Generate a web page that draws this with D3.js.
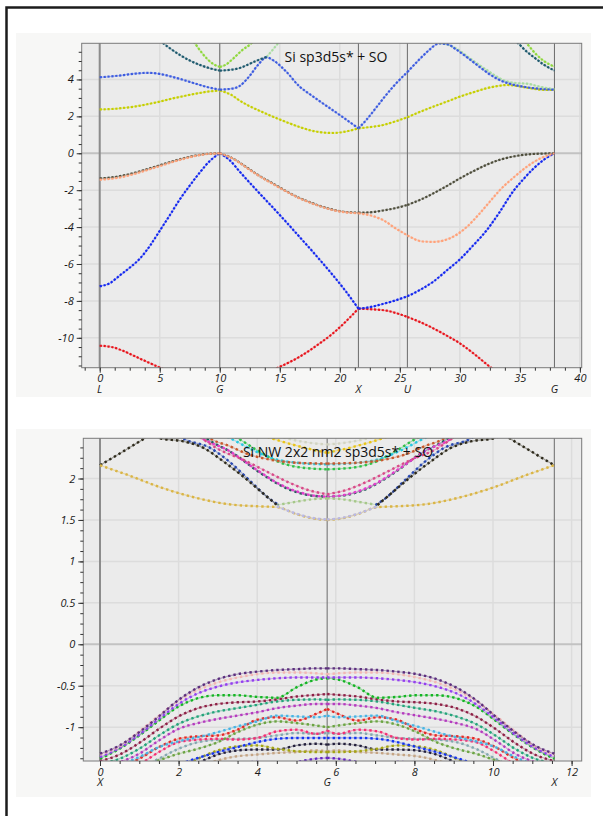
<!DOCTYPE html>
<html>
<head>
<meta charset="utf-8">
<script src="https://cdn.jsdelivr.net/npm/d3@7"></script>
<style>
  body { margin: 0; background: #fff; }
  text { font-family: "Open Sans", "Noto Sans", sans-serif; }
</style>
</head>
<body>
<svg id="chart" width="603" height="816"></svg>
<script>
// ---------- bulk Si, path L-G-X-U,K-G ----------
const bulkSym = [0, 10, 21.55, 25.63, 37.88]
const bulkSymLabels = ['L', 'G', 'X', 'U', 'G']

const bulkRed = [[0,-10.43],[1,-10.5],[2,-10.72],[3,-11.02],[4,-11.32],[4.86,-11.57],[6,-11.9],[7,-12.15],[8.5,-12.35],[10,-12.42],
  [11.5,-12.3],[13,-12.05],[14,-11.85],[15,-11.57],[16.67,-11.02],[18.33,-10.3],[19.5,-9.72],[20.5,-9.12],[21.55,-8.42],
  [22.5,-8.45],[23.9,-8.53],[24.8,-8.68],[25.63,-8.87],[26.7,-9.15],[27.8,-9.49],[28.9,-9.88],[30,-10.3],[31.2,-10.88],[32.5,-11.57],[33.5,-12.05],[34.5,-12.5]]
const bulkBlueLow = [[0,-7.2],[0.8,-7.06],[1.67,-6.62],[2.5,-6.2],[3.33,-5.72],[4.2,-5.0],[5,-4.2],[5.8,-3.4],[6.67,-2.5],[7.5,-1.75],[8.33,-1.05],[9.2,-0.4],[10,0],
  [10.8,-0.36],[11.67,-1.0],[12.5,-1.6],[13.5,-2.3],[14.44,-2.95],[15.5,-3.7],[16.67,-4.55],[17.5,-5.15],[18.33,-5.77],[19.44,-6.62],[20.5,-7.48],[21.55,-8.42],
  [22.5,-8.34],[23.5,-8.18],[24.5,-8.0],[25.63,-7.75],[26.7,-7.4],[27.8,-6.95],[29,-6.3],[30,-5.75],[31.1,-5.0],[32.2,-4.2],[33.3,-3.2],[34.4,-2.1],[35.3,-1.4],[36.1,-0.85],[37,-0.35],[37.88,0]]
const bulkOlive = [[0,-1.36],[1,-1.31],[2,-1.2],[3,-1.04],[4,-0.85],[5,-0.65],[6,-0.45],[7,-0.27],[8,-0.12],[9,-0.03],[10,0],
  [11,-0.25],[11.67,-0.51],[12.5,-0.88],[13.5,-1.3],[14.44,-1.64],[15.5,-2.04],[16.67,-2.43],[17.5,-2.65],[18.33,-2.85],[19.44,-3.06],[20.5,-3.18],[21.55,-3.22],
  [22.5,-3.2],[23.6,-3.1],[24.6,-2.98],[25.63,-2.8],[26.7,-2.52],[27.8,-2.17],[28.9,-1.78],[30,-1.36],[31.1,-0.98],[32.2,-0.63],[33.3,-0.36],[34.4,-0.18],[35.5,-0.07],[36.7,-0.02],[37.88,0]]
const bulkSalmon = [[0,-1.43],[1,-1.38],[2,-1.27],[3,-1.1],[4,-0.9],[5,-0.7],[6,-0.49],[7,-0.3],[8,-0.14],[9,-0.04],[10,0],
  [11,-0.26],[11.67,-0.53],[12.5,-0.9],[13.5,-1.32],[14.44,-1.67],[15.5,-2.06],[16.67,-2.45],[17.5,-2.67],[18.33,-2.87],[19.44,-3.08],[20.5,-3.2],[21.55,-3.25],
  [22.5,-3.36],[23.6,-3.62],[24.6,-4.05],[25.63,-4.45],[26.9,-4.78],[27.8,-4.8],[29.2,-4.6],[30.6,-3.98],[31.6,-3.3],[32.5,-2.62],[33.3,-2.02],[34.5,-1.3],[35.6,-0.72],[36.8,-0.25],[37.88,0]]
const bulkYellow = [[0,2.38],[1,2.4],[2,2.46],[3,2.54],[4,2.66],[5,2.8],[6,2.96],[7,3.1],[8,3.23],[9,3.34],[10,3.4],
  [11,3.15],[11.67,2.85],[12.5,2.55],[13.5,2.25],[14.44,1.98],[15.5,1.7],[16.67,1.42],[17.5,1.25],[18.33,1.15],[19.44,1.1],[20.5,1.18],[21.55,1.35],
  [22.5,1.42],[23.6,1.53],[24.6,1.72],[25.63,1.95],[26.7,2.25],[27.8,2.53],[29,2.82],[30,3.07],[31.1,3.3],[32.2,3.52],[33.1,3.64],[33.9,3.7],[35,3.62],[36.1,3.5],[37,3.44],[37.88,3.43]]
const bulkRoyal = [[0,4.12],[1,4.17],[2,4.24],[3,4.32],[4,4.36],[5,4.3],[6,4.15],[7,3.97],[8,3.77],[9,3.58],[10,3.45],
  [11,3.5],[11.67,3.65],[12.5,4.2],[13.2,4.8],[13.9,5.2],[14.5,5.02],[15.5,4.45],[16.67,3.6],[17.5,3.2],[18.33,2.82],[19.2,2.43],[20,2.07],[20.8,1.7],[21.55,1.35],
  [22.2,1.8],[23,2.45],[23.6,2.95],[24.5,3.65],[25.63,4.4],[26.5,5.0],[27.2,5.45],[28.3,5.95],[29,5.9],[29.7,5.62],[30.7,5.15],[31.7,4.65],[32.5,4.27],[33.3,3.97],[34.2,3.76],[35,3.64],[36.1,3.53],[37,3.47],[37.88,3.45]]
const bulkTealLeft = [[5,6.12],[5.3,5.96],[6,5.62],[6.67,5.33],[7.5,5.03],[8.33,4.79],[9.2,4.6],[10,4.48],[10.8,4.52],[11.67,4.62],[12.5,4.85],[13.3,5.08],[13.9,5.22]]
const bulkTealRight = [[34.5,6.15],[34.86,5.96],[35.5,5.55],[36.1,5.24],[37,4.8],[37.88,4.48]]
const bulkPaleLeft = [[13.9,5.22],[14.4,5.6],[14.9,6.0],[15.4,6.4]]
const bulkPaleRight = [[28.3,5.97],[29,5.88],[29.7,5.68],[30.6,5.26],[31.4,4.88],[32.2,4.53],[33,4.18],[33.9,3.9],[34.8,3.8],[35.6,3.77],[36.7,3.6],[37.88,3.47]]
const bulkGreenLeft = [[7.6,6.2],[7.92,5.96],[8.5,5.45],[9,5.08],[9.5,4.82],[10,4.68],[10.5,4.8],[11.1,5.12],[11.8,5.55],[12.64,5.96],[13,6.2]]
const bulkGreenRight = [[35.2,6.2],[35.56,5.96],[36.3,5.4],[37,5.0],[37.88,4.69]]

// ---------- Si nanowire, path X-G-X (values given X -> G, mirrored about G) ----------
const nwG = 5.78
const nwSym = [0, 5.78, 11.56]
const nwSymLabels = ['X', 'G', 'X']
const nwK = [0, 0.5, 1, 1.5, 2, 2.5, 3, 3.5, 4, 4.5, 5, 5.5, 5.78]

const vDarkPurple = [-1.32,-1.22,-1.06,-0.87,-0.67,-0.52,-0.42,-0.36,-0.33,-0.31,-0.30,-0.29,-0.29]
const vPalePink   = [-1.33,-1.23,-1.05,-0.86,-0.68,-0.55,-0.46,-0.40,-0.36,-0.34,-0.34,-0.35,-0.36]
const vViolet     = [-1.36,-1.25,-1.09,-0.90,-0.72,-0.59,-0.51,-0.46,-0.43,-0.41,-0.40,-0.40,-0.40]
const vGreen      = [-1.38,-1.26,-1.10,-0.92,-0.75,-0.65,-0.615,-0.615,-0.635,-0.645,-0.52,-0.425,-0.41]
const vMaroon     = [-1.41,-1.33,-1.19,-1.02,-0.87,-0.77,-0.72,-0.70,-0.69,-0.665,-0.63,-0.61,-0.60]
const vTeal       = [-1.44,-1.38,-1.26,-1.10,-0.96,-0.87,-0.81,-0.77,-0.73,-0.69,-0.67,-0.665,-0.67]
const vMagenta    = [-1.47,-1.42,-1.32,-1.16,-1.02,-0.95,-0.90,-0.86,-0.82,-0.77,-0.74,-0.72,-0.72]
const vSky        = [-1.50,-1.45,-1.36,-1.24,-1.17,-1.12,-1.06,-0.99,-0.93,-0.86,-0.87,-0.88,-0.86]
const vRed        = [-1.55,-1.48,-1.38,-1.24,-1.14,-1.11,-1.10,-1.03,-0.91,-0.88,-0.92,-0.84,-0.78]
const vOliveGreen = [-1.60,-1.55,-1.48,-1.40,-1.32,-1.26,-1.18,-1.06,-0.97,-0.93,-0.95,-0.98,-1.00]
const vPink       = [-1.62,-1.55,-1.45,-1.30,-1.18,-1.15,-1.14,-1.15,-1.13,-1.05,-1.03,-1.08,-1.04]
const vGrayTeal   = [-1.65,-1.60,-1.50,-1.38,-1.26,-1.18,-1.15,-1.14,-1.13,-1.10,-1.07,-1.08,-1.07]
const vBlue       = [-1.80,-1.75,-1.65,-1.55,-1.45,-1.37,-1.30,-1.24,-1.18,-1.14,-1.13,-1.13,-1.13]
const vOlive      = [-1.90,-1.85,-1.75,-1.62,-1.50,-1.38,-1.28,-1.23,-1.22,-1.26,-1.29,-1.30,-1.30]
const vNavy       = [-1.95,-1.90,-1.80,-1.68,-1.55,-1.43,-1.33,-1.28,-1.27,-1.27,-1.22,-1.20,-1.21]
const vTan        = [-2.00,-1.95,-1.85,-1.72,-1.60,-1.48,-1.40,-1.35,-1.33,-1.31,-1.30,-1.28,-1.29]
const vPurple     = [-2.10,-2.00,-1.90,-1.78,-1.66,-1.56,-1.48,-1.43,-1.42,-1.45,-1.42,-1.38,-1.37]

const cGold      = [[0,2.16],[0.72,2.04],[1.56,1.89],[2.42,1.77],[3.26,1.69],[4.0,1.665],[4.5,1.655],[5.0,1.57],[5.4,1.52],[5.78,1.50]]
const cLavender  = [[4.5,1.665],[5.0,1.575],[5.4,1.525],[5.78,1.505]]
const cBlackUp   = [[0,2.16],[0.6,2.33],[1.15,2.49],[1.5,2.6]]
const cBlackDown = [[1.3,2.56],[1.53,2.485],[2.1,2.45],[2.67,2.36],[3.1,2.22],[3.6,2.04],[4.1,1.84],[4.5,1.68]]
const cBlue      = [[1.9,2.56],[2.1,2.49],[2.8,2.37],[3.3,2.2],[3.8,1.98],[4.3,1.76],[4.55,1.68]]
const cPaleGreen = [[4.5,1.68],[5.0,1.72],[5.4,1.75],[5.78,1.76]]
const cPink      = [[2.3,2.56],[2.57,2.49],[2.99,2.36],[3.67,2.22],[4.3,2.07],[4.77,1.96],[5.3,1.86],[5.78,1.81]]
const cMagenta   = [[2.4,2.56],[2.59,2.49],[3.26,2.34],[3.94,2.12],[4.62,1.92],[5.1,1.83],[5.5,1.79],[5.78,1.78]]
const cDarkTeal  = [[2.5,2.56],[2.75,2.47],[3.4,2.30],[4.1,2.06],[4.8,1.87],[5.3,1.80],[5.78,1.78]]
const cOrange    = [[2.6,2.56],[2.8,2.485],[3.3,2.39],[3.73,2.30],[4.3,2.23],[5.0,2.19],[5.78,2.18]]
const cCyan      = [[3.1,2.53],[3.31,2.485],[3.9,2.34],[4.41,2.24],[5.0,2.19],[5.78,2.17]]
const cGreen     = [[3.3,2.53],[3.5,2.485],[4.0,2.34],[4.5,2.21],[5.0,2.14],[5.78,2.11]]
const cGoldTop   = [[4.0,2.55],[4.28,2.5],[5.13,2.38],[5.78,2.31]]
const cPale      = [[4.4,2.53],[4.62,2.5],[5.2,2.44],[5.78,2.41]]

const svg = d3.select('#chart')

// outer frame
svg.append('rect')
  .attr('x', 6.5).attr('y', 7.5)
  .attr('width', 640).attr('height', 860)
  .attr('fill', 'none')
  .attr('stroke', '#1c1c1c')
  .attr('stroke-width', 2.5)

function splitRuns(pts, breaks) {
  const runs = []
  let cur = [pts[0]]
  for (let i = 1; i < pts.length; i++) {
    cur.push(pts[i])
    if (i < pts.length - 1 && breaks.some(b => Math.abs(b - pts[i][0]) < 1e-6)) {
      runs.push(cur)
      cur = [pts[i]]
    }
  }
  runs.push(cur)
  return runs
}

function drawPanel(p) {
  const g = svg.append('g')
  g.append('rect')
    .attr('x', 16).attr('y', p.bgTop)
    .attr('width', 575).attr('height', p.bgBottom - p.bgTop)
    .attr('fill', '#f7f7f6')

  const x = d3.scaleLinear().domain(p.xDomain).range([p.left, p.right])
  const y = d3.scaleLinear().domain(p.yDomain).range([p.bottom, p.top])

  g.append('rect')
    .attr('x', p.left).attr('y', p.top)
    .attr('width', p.right - p.left).attr('height', p.bottom - p.top)
    .attr('fill', '#ebebeb')

  // grid
  g.selectAll('.gx').data(p.xGrid).enter().append('line')
    .attr('x1', d => x(d)).attr('x2', d => x(d))
    .attr('y1', p.top).attr('y2', p.bottom)
    .attr('stroke', '#dcdcdc').attr('stroke-width', 1.5)
  g.selectAll('.gy').data(p.yGrid).enter().append('line')
    .attr('x1', p.left).attr('x2', p.right)
    .attr('y1', d => y(d)).attr('y2', d => y(d))
    .attr('stroke', d => d === 0 ? '#c2c2c2' : '#dcdcdc')
    .attr('stroke-width', d => d === 0 ? 2 : 1.5)

  // symmetry point lines
  g.selectAll('.sym').data(p.sym).enter().append('line')
    .attr('x1', d => x(d)).attr('x2', d => x(d))
    .attr('y1', p.top).attr('y2', p.bottom)
    .attr('stroke', (d, i) => i === 0 ? '#8c8c8c' : '#6a6a6a')
    .attr('stroke-width', (d, i) => i === 0 ? 2 : 1)

  const clipId = 'clip-' + p.id
  g.append('clipPath').attr('id', clipId)
    .append('rect')
    .attr('x', p.left).attr('y', p.top)
    .attr('width', p.right - p.left).attr('height', p.bottom - p.top)

  const bands = g.append('g').attr('clip-path', `url(#${clipId})`)
  const line = d3.line()
    .x(d => x(d[0]))
    .y(d => y(d[1]))
    .curve(d3.curveMonotoneX)

  p.bands.forEach(b => {
    splitRuns(b.pts, p.sym).forEach(run => {
      bands.append('path')
        .attr('d', line(run))
        .attr('fill', 'none')
        .attr('stroke', b.color)
        .attr('stroke-width', 1.2)
        .attr('stroke-opacity', 0.4)
      bands.append('path')
        .attr('d', line(run))
        .attr('fill', 'none')
        .attr('stroke', b.color)
        .attr('stroke-width', p.dotSize)
        .attr('stroke-dasharray', p.dash)
    })
  })

  // plot frame
  g.append('rect')
    .attr('x', p.left).attr('y', p.top)
    .attr('width', p.right - p.left).attr('height', p.bottom - p.top)
    .attr('fill', 'none')
    .attr('stroke', '#7a7a7a')
    .attr('stroke-width', 1)

  const styleAxis = a => {
    a.select('.domain').remove()
    a.selectAll('line').attr('stroke', '#333')
    a.selectAll('text')
      .attr('fill', '#1a1a1a')
      .attr('font-size', 11)
      .attr('font-style', 'italic')
      .attr('font-family', '"Open Sans", "Noto Sans", sans-serif')
  }

  g.append('g').attr('transform', `translate(${p.left},0)`)
    .call(d3.axisLeft(y).tickValues(p.yMinor).tickSize(3).tickFormat(''))
    .call(styleAxis)
  g.append('g').attr('transform', `translate(${p.left},0)`)
    .call(d3.axisLeft(y).tickValues(p.yMajor).tickSize(5).tickPadding(3).tickFormat(d => String(d)))
    .call(styleAxis)
  g.append('g').attr('transform', `translate(0,${p.bottom})`)
    .call(d3.axisBottom(x).tickValues(p.xMinor).tickSize(3).tickFormat(''))
    .call(styleAxis)
  g.append('g').attr('transform', `translate(0,${p.bottom})`)
    .call(d3.axisBottom(x).tickValues(p.xMajor).tickSize(5).tickPadding(2).tickFormat(d => String(d)))
    .call(styleAxis)

  // symmetry point labels
  g.selectAll('.symlab').data(p.sym).enter().append('text')
    .attr('x', d => x(d))
    .attr('y', p.symLabelY)
    .attr('text-anchor', 'middle')
    .attr('font-size', 11)
    .attr('font-style', 'italic')
    .attr('fill', '#1a1a1a')
    .text((d, i) => p.symLabels[i])

  // title
  g.append('text')
    .attr('x', p.titleX)
    .attr('y', p.titleY)
    .attr('text-anchor', 'middle')
    .attr('font-size', 14)
    .attr('fill', '#111')
    .text(p.title)
}

drawPanel({
  id: 'bulk',
  bgTop: 33, bgBottom: 397,
  left: 81.7, right: 581.7, top: 43.3, bottom: 367.7,
  xDomain: [-1.5, 40.15], yDomain: [-11.62, 5.96],
  xGrid: d3.range(0, 41, 5), yGrid: d3.range(-10, 5, 2),
  xMajor: d3.range(0, 41, 5), xMinor: d3.range(-1.25, 40.1, 1.25),
  yMajor: d3.range(-10, 5, 2), yMinor: d3.range(-11.5, 6, 0.5),
  sym: bulkSym, symLabels: bulkSymLabels, symLabelY: 392.5,
  title: 'Si sp3d5s* + SO', titleX: 336, titleY: 61.5,
  dash: '2.2 1.7', dotSize: 2.2,
  bands: [
    { pts: bulkRed, color: '#e8141c' },
    { pts: bulkBlueLow, color: '#1428f0' },
    { pts: bulkOlive, color: '#4e4e3c' },
    { pts: bulkSalmon, color: '#ffa27a' },
    { pts: bulkYellow, color: '#c6cf00' },
    { pts: bulkPaleLeft, color: '#a8dca0' },
    { pts: bulkPaleRight, color: '#a8dca0' },
    { pts: bulkRoyal, color: '#3d5ce0' },
    { pts: bulkTealLeft, color: '#1e5a6e' },
    { pts: bulkTealRight, color: '#1e5a6e' },
    { pts: bulkGreenLeft, color: '#8ed83c' },
    { pts: bulkGreenRight, color: '#8ed83c' }
  ]
})

const valence = [
  [vPurple, '#6424c4'], [vTan, '#c4a484'], [vNavy, '#24203c'], [vOlive, '#a4a414'],
  [vBlue, '#1434f0'], [vGrayTeal, '#84a8b0'], [vPink, '#f43074'], [vOliveGreen, '#6ca444'],
  [vRed, '#e42a26'], [vSky, '#48b4e4'], [vMagenta, '#b43cbe'], [vTeal, '#24a47a'],
  [vMaroon, '#8e2046'], [vGreen, '#14b424'], [vViolet, '#9440ee'], [vPalePink, '#f2b7b4'],
  [vDarkPurple, '#5c2f7e']
]
const conduction = [
  [cPale, '#d2d4c2'], [cGoldTop, '#e8c418'], [cGreen, '#30c048'], [cCyan, '#28c8e0'],
  [cOrange, '#c8582c'], [cDarkTeal, '#1c5c58'], [cMagenta, '#e83ccf'], [cPink, '#d84a88'],
  [cPaleGreen, '#a6c88a'], [cBlue, '#2848b0'], [cBlackDown, '#2e2a1c'], [cBlackUp, '#2e2a1c'],
  [cGold, '#dab545'], [cLavender, '#b8b8e8']
]

// each half band is also drawn on the G-X side (the path is symmetric about G)
const nwBands = []
valence.forEach(([vals, color]) => {
  const half = nwK.map((k, i) => [k, vals[i]])
  nwBands.push({ pts: half, color })
  nwBands.push({ pts: half.map(([k, v]) => [2 * nwG - k, v]).reverse(), color })
})
conduction.forEach(([half, color]) => {
  nwBands.push({ pts: half, color })
  nwBands.push({ pts: half.map(([k, v]) => [2 * nwG - k, v]).reverse(), color })
})

drawPanel({
  id: 'nw',
  bgTop: 429, bgBottom: 797,
  left: 83.3, right: 581.7, top: 438.3, bottom: 761,
  xDomain: [-0.425, 12.257], yDomain: [-1.408, 2.485],
  xGrid: d3.range(0, 13, 2), yGrid: [-1, -0.5, 0, 0.5, 1, 1.5, 2],
  xMajor: d3.range(0, 13, 2), xMinor: d3.range(0, 12.1, 0.5),
  yMajor: [-1, -0.5, 0, 0.5, 1, 1.5, 2], yMinor: d3.range(-1.375, 2.49, 0.125),
  sym: nwSym, symLabels: nwSymLabels, symLabelY: 785.5,
  title: 'Si NW 2x2 nm2 sp3d5s* + SO', titleX: 338, titleY: 456.5,
  dash: '2.4 3', dotSize: 2.4,
  bands: nwBands
})
</script>
</body>
</html>
